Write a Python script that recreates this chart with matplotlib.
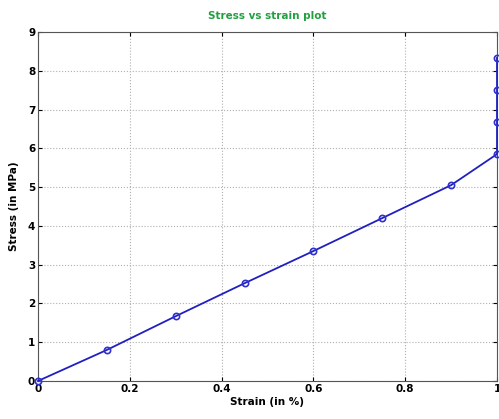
import matplotlib
matplotlib.use("Agg")
import matplotlib.pyplot as plt

strain = [0, 0.15, 0.3, 0.45, 0.6, 0.75, 0.9, 1.0, 1.0, 1.0, 1.0]
stress = [0, 0.8, 1.67, 2.52, 3.35, 4.2, 5.05, 5.85, 6.68, 7.5, 8.33]
xticks = [0, 0.2, 0.4, 0.6, 0.8, 1]
xticklabels = ["0", "0.2", "0.4", "0.6", "0.8", "1"]
yticks = list(range(10))

fig = plt.figure(figsize=(4.99, 4.19), dpi=100)
ax = fig.add_axes([0.076, 0.0907, 0.92, 0.833])
ax.plot(strain, stress, color="#2020c0", lw=1.3, marker="o", markersize=4.5,
        markerfacecolor="none", markeredgecolor="#3030d0", markeredgewidth=1.2, clip_on=False, zorder=3)
ax.set_xlim(0, 1)
ax.set_ylim(0, 9)
ax.set_xticks(xticks)
ax.set_xticklabels(xticklabels)
ax.set_yticks(yticks)
ax.grid(True, linestyle=":", color="#b0b0b0", linewidth=0.8)
ax.tick_params(direction="in", top=True, right=True, labelsize=7.5, length=3, pad=2)
for lab in ax.get_xticklabels() + ax.get_yticklabels():
    lab.set_fontweight("bold")
for s in ax.spines.values():
    s.set_color("#555555")
ax.set_xlabel("Strain (in %)", fontsize=7.5, fontweight="bold", labelpad=2)
ax.set_ylabel("Stress (in MPa)", fontsize=7.5, fontweight="bold", labelpad=6)
ax.set_title("Stress vs strain plot", fontsize=7.5, fontweight="bold", color="#22a040", pad=9)
fig.savefig("out.png", dpi=100)
